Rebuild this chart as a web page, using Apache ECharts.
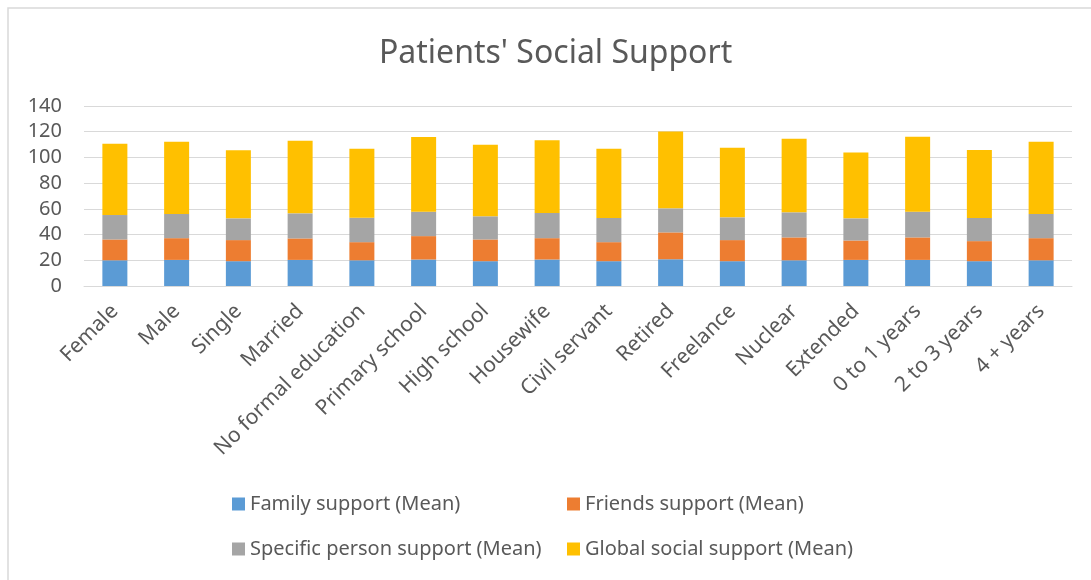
<!DOCTYPE html>
<html>
<head>
<meta charset="utf-8">
<script src="https://cdn.jsdelivr.net/npm/echarts@6/dist/echarts.min.js"></script>
<style>
  html, body { margin: 0; padding: 0; background: #fff; }
  #chart { width: 1091px; height: 580px; }
</style>
</head>
<body>
<div id="chart"></div>
<script>
const categories = ['Female', 'Male', 'Single', 'Married', 'No formal education', 'Primary school',
  'High school', 'Housewife', 'Civil servant', 'Retired', 'Freelance', 'Nuclear', 'Extended',
  '0 to 1 years', '2 to 3 years', '4 + years']
const familySupport = [20.0, 20.3, 19.3, 20.3, 20.0, 20.6, 19.3, 20.6, 19.3, 20.8, 19.3, 20.0, 20.3, 20.3, 19.3, 20.0]
const friendsSupport = [16.2, 16.9, 16.4, 16.7, 14.1, 18.2, 16.9, 16.6, 14.8, 20.9, 16.4, 17.8, 15.1, 17.5, 15.6, 17.2]
const specificSupport = [19.0, 18.8, 16.9, 19.5, 19.0, 19.0, 18.0, 19.6, 18.8, 18.7, 17.7, 19.5, 17.2, 20.0, 18.0, 18.8]
const globalSupport = [55.5, 56.2, 52.9, 56.5, 53.7, 58.1, 55.7, 56.5, 53.9, 59.7, 54.2, 57.3, 51.3, 58.3, 52.8, 56.2]
const yTicks = [0, 20, 40, 60, 80, 100, 120, 140]

const seriesNames = ['Family support (Mean)', 'Friends support (Mean)',
  'Specific person support (Mean)', 'Global social support (Mean)']
const colors = ['#5B9BD5', '#ED7D31', '#A5A5A5', '#FFC000']
const values = [familySupport, friendsSupport, specificSupport, globalSupport]

const textColor = '#595959'
const font = 'Noto Sans'

const myChart = echarts.init(document.getElementById('chart'))

// one legend per item so the two rows line up like the original
const legendPos = [[227, 489], [562, 489], [227, 534], [562, 534]]
const legends = seriesNames.map((name, i) => ({
  data: [name],
  left: legendPos[i][0],
  top: legendPos[i][1],
  icon: 'rect',
  itemWidth: 13,
  itemHeight: 13,
  itemGap: 6,
  textStyle: { fontFamily: font, fontSize: 20, color: textColor }
}))

const option = {
  animation: false,
  backgroundColor: '#fff',
  color: colors,
  title: {
    text: "Patients' Social Support",
    left: 374,
    top: 33,
    textStyle: { fontFamily: font, fontSize: 32, fontWeight: 'normal', color: textColor }
  },
  legend: legends,
  graphic: [{
    type: 'rect',
    shape: { x: 8, y: 8, width: 1100, height: 600 },
    style: { fill: 'none', stroke: '#D9D9D9', lineWidth: 1.5 },
    silent: true
  }],
  grid: { left: 84, right: 19, top: 106, bottom: 294 },
  xAxis: {
    type: 'category',
    data: categories,
    axisLine: { lineStyle: { color: '#D9D9D9' } },
    axisTick: { show: false },
    axisLabel: {
      rotate: 45,
      interval: 0,
      margin: 22,
      fontFamily: font,
      fontSize: 21,
      color: textColor
    }
  },
  yAxis: {
    type: 'value',
    min: yTicks[0],
    max: yTicks[yTicks.length - 1],
    interval: 20,
    axisLine: { show: false },
    axisTick: { show: false },
    splitLine: { lineStyle: { color: '#D9D9D9', width: 1 } },
    axisLabel: { fontFamily: font, fontSize: 20, color: textColor, margin: 22 }
  },
  series: values.map((v, i) => ({
    name: seriesNames[i],
    type: 'bar',
    stack: 'total',
    barWidth: 25,
    data: v
  }))
}

myChart.setOption(option)
</script>
</body>
</html>
